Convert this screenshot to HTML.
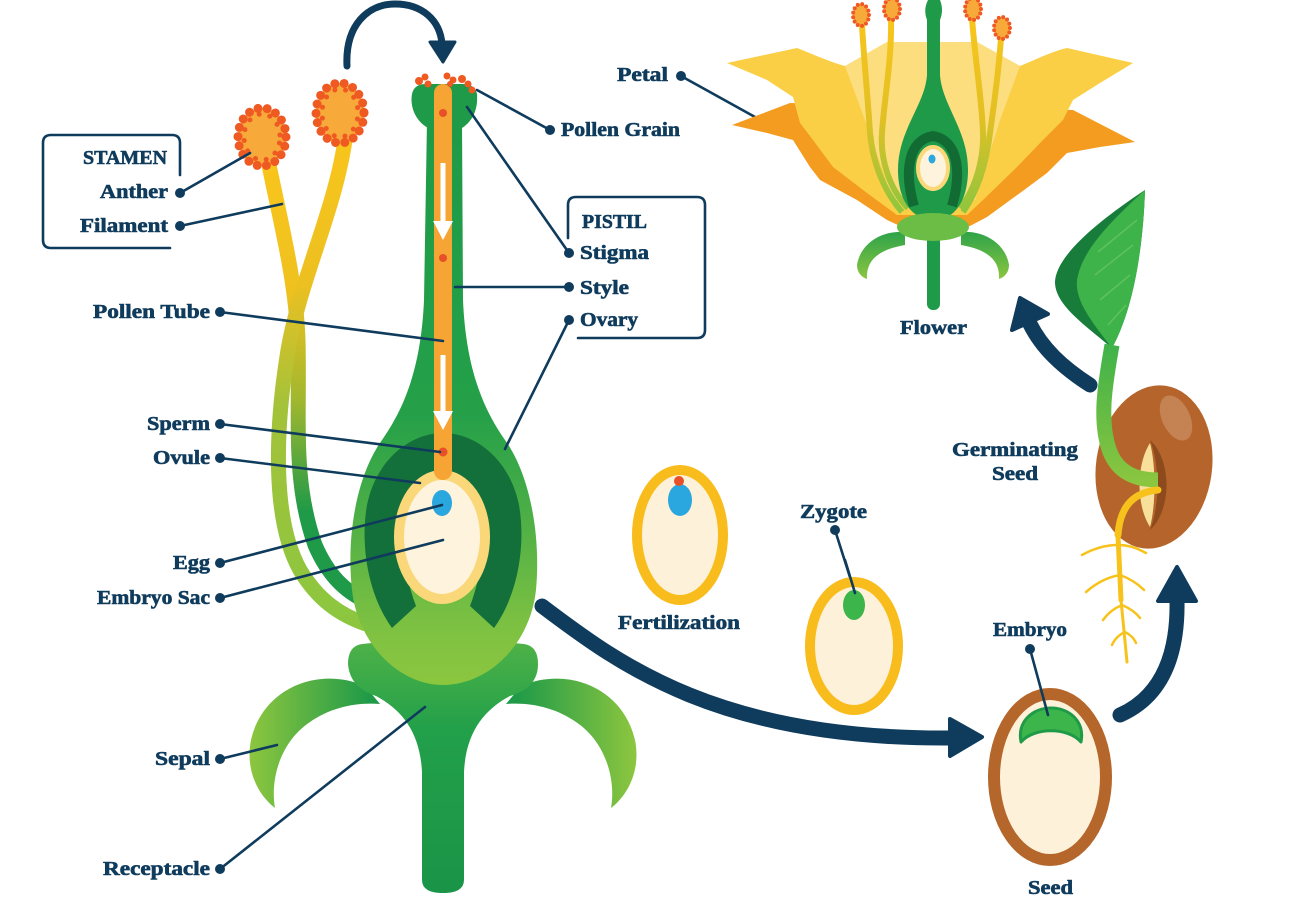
<!DOCTYPE html>
<html>
<head>
<meta charset="utf-8">
<style>
  html,body{margin:0;padding:0;background:#ffffff;}
  svg{display:block;}
  .t{font-family:"Liberation Serif",serif;font-weight:bold;font-size:19.5px;fill:#0f3b5d;stroke:#0f3b5d;stroke-width:0.6;}
  .ln{stroke:#0f3b5d;stroke-width:2.6;fill:none;stroke-linecap:round;}
  .dot{fill:#0f3b5d;}
</style>
</head>
<body>
<svg width="1302" height="903" viewBox="0 0 1302 903" xmlns="http://www.w3.org/2000/svg">
  <defs>
    <linearGradient id="gPistil" gradientUnits="userSpaceOnUse" x1="0" y1="85" x2="0" y2="686">
      <stop offset="0" stop-color="#1e9a48"/>
      <stop offset="0.55" stop-color="#25a049"/>
      <stop offset="0.72" stop-color="#4daf46"/>
      <stop offset="0.9" stop-color="#7dc142"/>
      <stop offset="1" stop-color="#8cc63f"/>
    </linearGradient>
    <linearGradient id="gRecept" gradientUnits="userSpaceOnUse" x1="0" y1="640" x2="0" y2="893">
      <stop offset="0" stop-color="#4fb247"/>
      <stop offset="0.35" stop-color="#23a04a"/>
      <stop offset="1" stop-color="#1a9447"/>
    </linearGradient>
    <linearGradient id="gFilL" gradientUnits="userSpaceOnUse" x1="0" y1="160" x2="0" y2="600">
      <stop offset="0" stop-color="#f8c51c"/>
      <stop offset="0.3" stop-color="#efc11f"/>
      <stop offset="0.55" stop-color="#9fb72f"/>
      <stop offset="0.8" stop-color="#1f9a48"/>
      <stop offset="1" stop-color="#1f9a48"/>
    </linearGradient>
    <linearGradient id="gFilR" gradientUnits="userSpaceOnUse" x1="0" y1="140" x2="0" y2="620">
      <stop offset="0" stop-color="#f8c51c"/>
      <stop offset="0.3" stop-color="#ecc021"/>
      <stop offset="0.55" stop-color="#a4c23a"/>
      <stop offset="1" stop-color="#8cc63f"/>
    </linearGradient>
    <linearGradient id="gSepL" gradientUnits="userSpaceOnUse" x1="250" y1="0" x2="370" y2="0">
      <stop offset="0" stop-color="#8cc63f"/>
      <stop offset="1" stop-color="#1f9a48"/>
    </linearGradient>
    <linearGradient id="gSepR" gradientUnits="userSpaceOnUse" x1="516" y1="0" x2="636" y2="0">
      <stop offset="0" stop-color="#1f9a48"/>
      <stop offset="1" stop-color="#8cc63f"/>
    </linearGradient>
    <linearGradient id="gFlFil" gradientUnits="userSpaceOnUse" x1="0" y1="20" x2="0" y2="215">
      <stop offset="0" stop-color="#f8c51c"/>
      <stop offset="0.5" stop-color="#e2c024"/>
      <stop offset="1" stop-color="#8cc63f"/>
    </linearGradient>
    <linearGradient id="gFlSep" gradientUnits="userSpaceOnUse" x1="0" y1="230" x2="0" y2="280">
      <stop offset="0" stop-color="#2aa24a"/>
      <stop offset="1" stop-color="#8cc63f"/>
    </linearGradient>
    <linearGradient id="gStem" gradientUnits="userSpaceOnUse" x1="0" y1="345" x2="0" y2="485">
      <stop offset="0" stop-color="#3fb24a"/>
      <stop offset="1" stop-color="#8cc63f"/>
    </linearGradient>
  </defs>

  <rect x="0" y="0" width="1302" height="903" fill="#ffffff"/>

  <!-- ===== TOP CURVED ARROW ===== -->
  <path d="M347,66 C345,25 368,4 395,4 C422,4 440,20 442,44" stroke="#0f3b5d" stroke-width="7" fill="none" stroke-linecap="round"/>
  <polygon points="430,42 455,42 443,62" fill="#0f3b5d" stroke="#0f3b5d" stroke-width="3" stroke-linejoin="round"/>

  <!-- ===== FILAMENTS (main) ===== -->
  <path d="M268,160 C280,220 296,280 298,340 C300,420 292,480 315,545 C328,575 345,592 368,602" stroke="url(#gFilL)" stroke-width="15" fill="none"/>
  <path d="M345,140 C335,210 300,280 288,350 C275,430 272,520 300,570 C318,600 340,615 366,624" stroke="url(#gFilR)" stroke-width="15" fill="none"/>

  <!-- ===== SEPALS ===== -->
  <path d="M365,686 C318,666 263,688 251,740 C245,770 258,795 275,808 C270,780 280,742 310,722 C330,708 355,702 380,704 Z" fill="url(#gSepL)"/>
  <path d="M521,686 C568,666 623,688 635,740 C641,770 628,795 611,808 C616,780 606,742 576,722 C556,708 531,702 506,704 Z" fill="url(#gSepR)"/>

  <!-- ===== RECEPTACLE + STEM ===== -->
  <path d="M362,644 Q348,646 348,664 Q350,688 376,696 C402,710 420,732 422,772 L422,880 Q422,893 443,893 Q464,893 464,880 L464,772 C466,732 484,710 510,696 Q538,688 538,664 Q538,646 524,644 Q443,636 362,644 Z" fill="url(#gRecept)"/>

  <!-- ===== PISTIL ===== -->
  <path d="M427,120 L424,300 C421,370 403,410 382,440 C357,475 346,535 352,590 C358,645 400,685 443,685 C488,685 530,645 536,590 C541,535 530,475 505,440 C484,410 466,370 463,300 L462,120 Z" fill="url(#gPistil)"/>
  <path d="M428,128 C414,120 410,105 412,94 Q414,84 426,84 L462,84 Q475,84 477,94 C478,108 474,120 462,128 Z" fill="#1e9a48"/>

  <!-- dark arch -->
  <path d="M392,628 C368,595 360,545 367,505 C376,460 410,433 443,433 C476,433 510,460 519,505 C526,545 518,595 494,628 L470,606 C480,580 485,550 480,520 C475,490 460,470 443,470 C426,470 411,490 406,520 C401,550 406,580 416,606 Z" fill="#14703a"/>

  <!-- ovule -->
  <ellipse cx="442" cy="537" rx="43" ry="62" fill="#fef3dc" stroke="#fad87a" stroke-width="10"/>
  <ellipse cx="442" cy="503" rx="10" ry="13" fill="#2ba7df"/>

  <!-- pollen tube -->
  <rect x="434" y="84" width="18" height="396" rx="9" fill="#f6a434"/>
  <circle cx="443" cy="113" r="4" fill="#e8502a"/>
  <circle cx="443" cy="258" r="4" fill="#e8502a"/>
  <circle cx="443" cy="452" r="4.5" fill="#e8502a"/>
  <line x1="443" y1="163" x2="443" y2="225" stroke="#ffffff" stroke-width="5"/>
  <polygon points="433,221 453,221 443,240" fill="#ffffff"/>
  <line x1="443" y1="355" x2="443" y2="415" stroke="#ffffff" stroke-width="5"/>
  <polygon points="433,411 453,411 443,430" fill="#ffffff"/>

  <!-- stigma pollen -->
  <g fill="#ef5a23">
    <circle cx="419" cy="81" r="4"/><circle cx="425" cy="77" r="3.5"/><circle cx="428" cy="84" r="3.5"/>
    <circle cx="447" cy="76" r="3.5"/><circle cx="453" cy="80" r="3.5"/><circle cx="450" cy="84" r="3"/>
    <circle cx="462" cy="79" r="4"/><circle cx="468" cy="84" r="3.5"/><circle cx="472" cy="90" r="3.5"/>
  </g>

  <!-- anthers -->
  <ellipse cx="262" cy="137" rx="24" ry="29" fill="#f7a93a"/>
  <ellipse cx="262" cy="137" rx="24" ry="29" fill="none" stroke="#ef5a23" stroke-width="9" stroke-dasharray="0 9.3" stroke-linecap="round"/>
  <ellipse cx="262" cy="137" rx="18" ry="23" fill="none" stroke="#ef5a23" stroke-width="5" stroke-dasharray="0 11" stroke-dashoffset="5" stroke-linecap="round"/>
  <ellipse cx="340" cy="113" rx="24" ry="30" fill="#f7a93a"/>
  <ellipse cx="340" cy="113" rx="24" ry="30" fill="none" stroke="#ef5a23" stroke-width="9" stroke-dasharray="0 9.4" stroke-linecap="round"/>
  <ellipse cx="340" cy="113" rx="18" ry="24" fill="none" stroke="#ef5a23" stroke-width="5" stroke-dasharray="0 11" stroke-dashoffset="5" stroke-linecap="round"/>

  <!-- ===== STAMEN BOX ===== -->
  <path d="M180,175 L180,143 Q180,135 172,135 L51,135 Q43,135 43,143 L43,240 Q43,248 51,248 L170,248" class="ln"/>
  <!-- ===== PISTIL BOX ===== -->
  <path d="M568,238 L568,205 Q568,197 576,197 L697,197 Q705,197 705,205 L705,330 Q705,338 697,338 L578,338" class="ln"/>

  <!-- ===== LEADER LINES ===== -->
  <g class="ln">
    <line x1="180" y1="193" x2="250" y2="153"/>
    <line x1="180" y1="226" x2="282" y2="204"/>
    <line x1="220" y1="312" x2="443" y2="341"/>
    <line x1="220" y1="424" x2="440" y2="452"/>
    <line x1="220" y1="458" x2="420" y2="483"/>
    <line x1="220" y1="563" x2="442" y2="505"/>
    <line x1="220" y1="598" x2="443" y2="540"/>
    <line x1="220" y1="759" x2="277" y2="745"/>
    <line x1="220" y1="869" x2="425" y2="707"/>
    <line x1="550" y1="130" x2="477" y2="90"/>
    <line x1="569" y1="253" x2="467" y2="107"/>
    <line x1="569" y1="287" x2="455" y2="287"/>
    <line x1="569" y1="320" x2="505" y2="449"/>
    <line x1="681" y1="76" x2="755" y2="117"/>
    <line x1="835" y1="530" x2="855" y2="593"/>
  </g>
  <g class="dot">
    <circle cx="180" cy="193" r="5"/><circle cx="180" cy="226" r="5"/>
    <circle cx="220" cy="312" r="5"/><circle cx="220" cy="424" r="5"/><circle cx="220" cy="458" r="5"/>
    <circle cx="220" cy="563" r="5"/><circle cx="220" cy="598" r="5"/><circle cx="220" cy="759" r="5"/>
    <circle cx="220" cy="869" r="5"/><circle cx="550" cy="130" r="5"/><circle cx="569" cy="253" r="5"/>
    <circle cx="569" cy="287" r="5"/><circle cx="569" cy="320" r="5"/><circle cx="681" cy="76" r="5"/>
    <circle cx="835" cy="530" r="5"/><circle cx="1030" cy="649" r="5"/>
  </g>

  <!-- ===== LABELS ===== -->
  <text class="t" x="83" y="164" textLength="84" lengthAdjust="spacingAndGlyphs">STAMEN</text>
  <text class="t" x="100" y="198" textLength="68" lengthAdjust="spacingAndGlyphs">Anther</text>
  <text class="t" x="80" y="232" textLength="88" lengthAdjust="spacingAndGlyphs">Filament</text>
  <text class="t" x="93" y="318" textLength="117" lengthAdjust="spacingAndGlyphs">Pollen Tube</text>
  <text class="t" x="147" y="430" textLength="63" lengthAdjust="spacingAndGlyphs">Sperm</text>
  <text class="t" x="153" y="464" textLength="57" lengthAdjust="spacingAndGlyphs">Ovule</text>
  <text class="t" x="173" y="569" textLength="37" lengthAdjust="spacingAndGlyphs">Egg</text>
  <text class="t" x="97" y="604" textLength="113" lengthAdjust="spacingAndGlyphs">Embryo Sac</text>
  <text class="t" x="155" y="765" textLength="55" lengthAdjust="spacingAndGlyphs">Sepal</text>
  <text class="t" x="103" y="875" textLength="107" lengthAdjust="spacingAndGlyphs">Receptacle</text>
  <text class="t" x="617" y="81" textLength="51" lengthAdjust="spacingAndGlyphs">Petal</text>
  <text class="t" x="561" y="136" textLength="119" lengthAdjust="spacingAndGlyphs">Pollen Grain</text>
  <text class="t" x="582" y="228" textLength="65" lengthAdjust="spacingAndGlyphs">PISTIL</text>
  <text class="t" x="580" y="259" textLength="69" lengthAdjust="spacingAndGlyphs">Stigma</text>
  <text class="t" x="580" y="294" textLength="49" lengthAdjust="spacingAndGlyphs">Style</text>
  <text class="t" x="580" y="326" textLength="58" lengthAdjust="spacingAndGlyphs">Ovary</text>
  <text class="t" x="900" y="334" textLength="67" lengthAdjust="spacingAndGlyphs">Flower</text>
  <text class="t" x="952" y="456" textLength="126" lengthAdjust="spacingAndGlyphs">Germinating</text>
  <text class="t" x="992" y="480" textLength="46" lengthAdjust="spacingAndGlyphs">Seed</text>
  <text class="t" x="800" y="518" textLength="67" lengthAdjust="spacingAndGlyphs">Zygote</text>
  <text class="t" x="618" y="629" textLength="122" lengthAdjust="spacingAndGlyphs">Fertilization</text>
  <text class="t" x="993" y="636" textLength="74" lengthAdjust="spacingAndGlyphs">Embryo</text>
  <text class="t" x="1028" y="894" textLength="45" lengthAdjust="spacingAndGlyphs">Seed</text>

  <!-- ===== FERTILIZATION ===== -->
  <ellipse cx="680" cy="535" rx="43" ry="65" fill="#fef1d9" stroke="#f8bd1c" stroke-width="10"/>
  <ellipse cx="680" cy="500" rx="12" ry="16" fill="#2ba7df"/>
  <circle cx="679" cy="481" r="5" fill="#e8502a"/>

  <!-- ===== ZYGOTE ===== -->
  <ellipse cx="854" cy="646" rx="44" ry="64" fill="#fef1d9" stroke="#f8bd1c" stroke-width="10"/>
  <ellipse cx="854" cy="605" rx="11" ry="15" fill="#3cb54a"/>
  <line x1="845" y1="560" x2="855" y2="593" class="ln"/>

  <!-- ===== SEED ===== -->
  <ellipse cx="1050" cy="777" rx="56" ry="83" fill="#fef1d9" stroke="#b5662b" stroke-width="12"/>
  <path d="M1021,742 C1017,721 1033,708 1051,708 C1069,708 1085,721 1081,742 C1068,727 1034,727 1021,742 Z" fill="#3cb54a" stroke="#1f9a48" stroke-width="3" stroke-linejoin="round"/>
  <line x1="1030" y1="649" x2="1048" y2="715" class="ln"/>

  <!-- ===== BIG ARROW ===== -->
  <path d="M542,606 C620,665 720,740 952,738" stroke="#0f3b5d" stroke-width="15" fill="none" stroke-linecap="round"/>
  <polygon points="950,719 982,737 950,756" fill="#0f3b5d" stroke="#0f3b5d" stroke-width="4" stroke-linejoin="round"/>

  <!-- seed -> germinating arrow -->
  <path d="M1120,715 C1165,695 1178,650 1177,600" stroke="#0f3b5d" stroke-width="15" fill="none" stroke-linecap="round"/>
  <polygon points="1158,601 1196,601 1177,567" fill="#0f3b5d" stroke="#0f3b5d" stroke-width="4" stroke-linejoin="round"/>

  <!-- germinating -> flower arrow -->
  <path d="M1090,385 C1062,367 1042,348 1030,324" stroke="#0f3b5d" stroke-width="15" fill="none" stroke-linecap="round"/>
  <polygon points="1012,330 1048,314 1020,298" fill="#0f3b5d" stroke="#0f3b5d" stroke-width="4" stroke-linejoin="round"/>

  <!-- ===== GERMINATING SEED ===== -->
  <path d="M1112,348 C1085,325 1055,305 1055,282 C1056,255 1100,220 1145,190 C1143,250 1133,310 1112,348 Z" fill="#187d3b"/>
  <path d="M1112,348 C1090,320 1075,300 1077,280 C1082,250 1110,222 1145,190 C1143,250 1133,310 1112,348 Z" fill="#3db34a"/>
  <g stroke="#5fc25c" stroke-width="1.5">
    <line x1="1100" y1="300" x2="1130" y2="275"/>
    <line x1="1095" y1="275" x2="1133" y2="245"/>
    <line x1="1098" y1="252" x2="1137" y2="220"/>
    <line x1="1108" y1="325" x2="1126" y2="305"/>
  </g>
  <ellipse cx="1154" cy="467" rx="58" ry="82" transform="rotate(8 1154 467)" fill="#b5652b"/>
  <ellipse cx="1176" cy="418" rx="14" ry="24" transform="rotate(-25 1176 418)" fill="#c98a5c" opacity="0.8"/>
  <path d="M1150,440 C1172,460 1172,510 1150,530 C1160,505 1160,465 1150,440 Z" fill="#8c4a1d"/>
  <path d="M1150,443 C1136,465 1136,505 1150,527 C1156,505 1156,465 1150,443 Z" fill="#f8df9a"/>
  <path d="M1112,345 C1106,380 1098,420 1110,452 C1118,472 1135,480 1158,480" stroke="url(#gStem)" stroke-width="15" fill="none"/>
  <path d="M1158,490 C1135,492 1120,505 1118,535" stroke="#f7c21c" stroke-width="7" fill="none" stroke-linecap="round"/>
  <path d="M1118,535 L1121,600" stroke="#f7c21c" stroke-width="5" fill="none" stroke-linecap="round"/>
  <path d="M1121,600 L1127,662" stroke="#f7c21c" stroke-width="3" fill="none" stroke-linecap="round"/>
  <g stroke="#f7c21c" stroke-width="2.5" fill="none" stroke-linecap="round">
    <path d="M1118,545 Q1100,545 1082,555"/>
    <path d="M1119,545 Q1132,545 1146,553"/>
    <path d="M1120,575 Q1102,578 1086,592"/>
    <path d="M1120,575 Q1134,580 1144,590"/>
    <path d="M1122,605 Q1110,610 1103,620"/>
    <path d="M1122,605 Q1134,610 1140,618"/>
    <path d="M1125,632 Q1116,636 1112,645"/>
    <path d="M1125,632 Q1133,636 1136,643"/>
  </g>

  <!-- ===== FLOWER (top right) ===== -->
  <path d="M732,125 L790,103 L1073,110 L1135,142 L1100,147 L1067,153 L1047,173 L1020,193 L987,217 L970,226 L900,226 L887,220 L857,200 L820,180 L810,167 L793,140 L767,133 Z" fill="#f39c1f"/>
  <path d="M727,63 L797,48 C815,55 830,62 845,66 L887,42 L977,42 L1020,66 C1035,60 1050,52 1067,48 L1133,63 L1100,83 L1073,100 L1063,120 L1043,140 L1017,167 L983,200 L967,215 L897,215 L867,193 L833,167 L813,140 L800,123 L793,97 L767,80 Z" fill="#fbcf45"/>
  <path d="M845,66 L887,42 L977,42 L1020,66 L1000,120 L975,200 L893,200 L865,120 Z" fill="#fde08a" opacity="0.85"/>

  <!-- flower filaments -->
  <g stroke="url(#gFlFil)" stroke-width="6" fill="none">
    <path d="M862,25 C864,60 868,100 870,133 C873,165 885,192 902,212"/>
    <path d="M891,18 C892,60 884,100 882,133 C880,160 890,190 908,208"/>
    <path d="M972,18 C975,60 982,100 983,133 C984,160 975,190 960,208"/>
    <path d="M1001,38 C998,80 993,110 990,133 C986,165 977,192 963,212"/>
  </g>

  <!-- flower pistil -->
  <path d="M928,0 L940,0 Q944,10 940,20 L940,75 C942,105 968,130 968,170 C968,200 955,220 934,220 C912,220 898,200 898,170 C898,130 925,105 927,75 L927,20 Q923,10 928,0 Z" fill="#1e9a48"/>
  <path d="M914,206 C904,172 908,140 933,136 C958,140 962,172 952,206" stroke="#136b34" stroke-width="10" fill="none"/>
  <ellipse cx="933" cy="168" rx="15" ry="21" fill="#fef3dc" stroke="#fad87a" stroke-width="4"/>
  <ellipse cx="932" cy="159" rx="3.5" ry="4.5" fill="#2ba7df"/>

  <!-- flower sepals, receptacle, stem -->
  <path d="M905,232 C880,230 860,245 857,265 C857,272 861,277 867,279 C866,262 876,250 905,245 Z" fill="url(#gFlSep)"/>
  <path d="M961,232 C986,230 1006,245 1009,265 C1009,272 1005,277 999,279 C1000,262 990,250 961,245 Z" fill="url(#gFlSep)"/>
  <rect x="927" y="228" width="13" height="82" rx="6" fill="#1e9a48"/>
  <ellipse cx="933" cy="227" rx="36" ry="14" fill="#6cbd45"/>

  <!-- flower anthers -->
  <g>
    <ellipse cx="861" cy="15" rx="8" ry="11" fill="#f7a93a"/>
    <ellipse cx="861" cy="15" rx="8" ry="11" fill="none" stroke="#ef5a23" stroke-width="4" stroke-dasharray="0 4.6" stroke-linecap="round"/>
    <ellipse cx="892" cy="9" rx="8" ry="11" fill="#f7a93a"/>
    <ellipse cx="892" cy="9" rx="8" ry="11" fill="none" stroke="#ef5a23" stroke-width="4" stroke-dasharray="0 4.6" stroke-linecap="round"/>
    <ellipse cx="973" cy="9" rx="8" ry="11" fill="#f7a93a"/>
    <ellipse cx="973" cy="9" rx="8" ry="11" fill="none" stroke="#ef5a23" stroke-width="4" stroke-dasharray="0 4.6" stroke-linecap="round"/>
    <ellipse cx="1002" cy="28" rx="8" ry="11" fill="#f7a93a"/>
    <ellipse cx="1002" cy="28" rx="8" ry="11" fill="none" stroke="#ef5a23" stroke-width="4" stroke-dasharray="0 4.6" stroke-linecap="round"/>
  </g>
</svg>
</body>
</html>
